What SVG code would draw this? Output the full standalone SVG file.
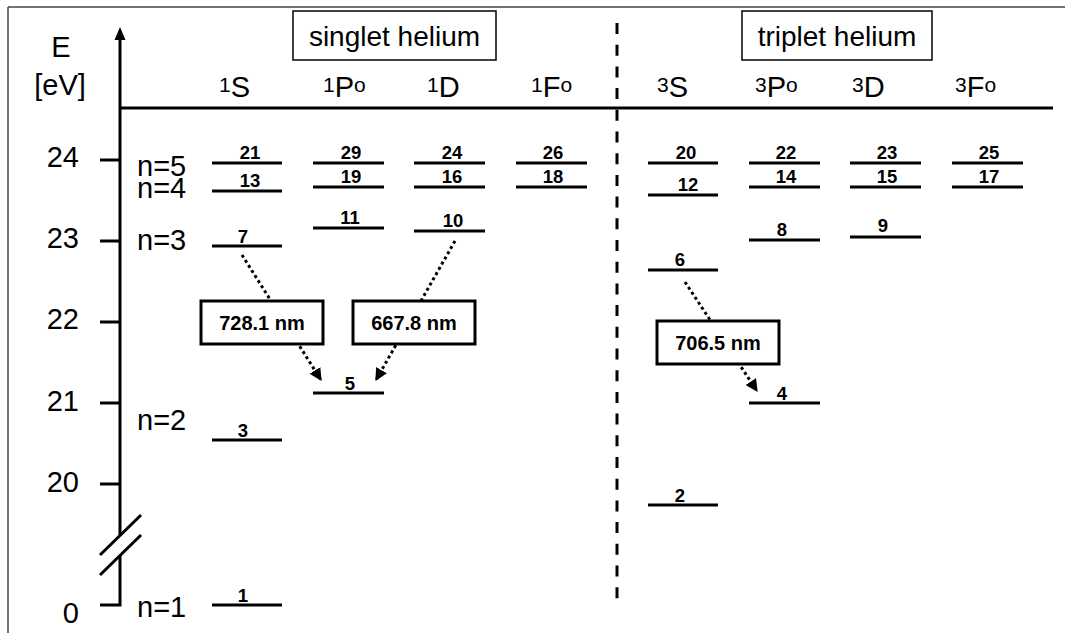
<svg xmlns="http://www.w3.org/2000/svg" width="1065" height="633" viewBox="0 0 1065 633">
<style>
.big{font-family:"Liberation Sans",Arial,sans-serif;font-size:29px;fill:#000}
.sup{font-family:"Liberation Sans",Arial,sans-serif;font-size:21px;fill:#000}
.lab{font-family:"Liberation Sans",Arial,sans-serif;font-size:18.5px;font-weight:bold;fill:#000;text-anchor:middle}
.wl{font-family:"Liberation Sans",Arial,sans-serif;font-size:20px;font-weight:bold;fill:#000;text-anchor:middle}
.lvl{stroke:#000;stroke-width:3;fill:none}
.ax{stroke:#000;stroke-width:3;fill:none}
.dot{stroke:#000;stroke-width:3;stroke-dasharray:3 3;fill:none}
.box{fill:#fff;stroke:#000;stroke-width:3}
</style>
<defs>
<marker id="ah" viewBox="0 0 10 10" refX="9" refY="5" markerWidth="4.2" markerHeight="4.2" markerUnits="strokeWidth" orient="auto">
<path d="M0,0 L10,5 L0,10 Z" fill="#000"/>
</marker>
</defs>
<rect width="1065" height="633" fill="#fff"/>
<g id="frame">
<line x1="8" y1="7" x2="1065" y2="7" stroke="#444" stroke-width="1.5"/>
<line x1="8" y1="7" x2="8" y2="633" stroke="#444" stroke-width="1.5"/>
</g>
<g id="axis">
<line class="ax" x1="120" y1="38" x2="120" y2="535"/>
<polygon points="120,27 114.5,40 125.5,40" fill="#000"/>
<polyline class="ax" points="120,555 120,605 100,605"/>
<line class="ax" x1="100" y1="555" x2="141" y2="515" stroke-width="2.5"/>
<line class="ax" x1="100" y1="575" x2="141" y2="535" stroke-width="2.5"/>
<line class="ax" x1="100" y1="160" x2="120" y2="160"/>
<line class="ax" x1="100" y1="241" x2="120" y2="241"/>
<line class="ax" x1="100" y1="322" x2="120" y2="322"/>
<line class="ax" x1="100" y1="403" x2="120" y2="403"/>
<line class="ax" x1="100" y1="484" x2="120" y2="484"/>
<line class="ax" x1="120" y1="108" x2="1053" y2="108"/>
<text class="big" x="61" y="57" text-anchor="middle">E</text>
<text class="big" x="60" y="95" text-anchor="middle">[eV]</text>
<text class="big" x="79" y="167" text-anchor="end">24</text>
<text class="big" x="79" y="248" text-anchor="end">23</text>
<text class="big" x="79" y="329" text-anchor="end">22</text>
<text class="big" x="79" y="411" text-anchor="end">21</text>
<text class="big" x="79" y="492" text-anchor="end">20</text>
<text class="big" x="79" y="623" text-anchor="end">0</text>
<text class="big" x="137" y="176">n=5</text>
<text class="big" x="137" y="198">n=4</text>
<text class="big" x="137" y="250">n=3</text>
<text class="big" x="137" y="430">n=2</text>
<text class="big" x="137" y="617">n=1</text>
</g>
<g id="divider">
<line x1="617" y1="23" x2="617" y2="607" stroke="#000" stroke-width="3" stroke-dasharray="11 10.7"/>
</g>
<g id="singlet-title">
<rect x="293" y="11" width="203" height="49" fill="#fff" stroke="#000" stroke-width="1.5"/>
<text class="big" x="394.5" y="46" text-anchor="middle" style="font-size:28px">singlet helium</text>
</g>
<g id="triplet-title">
<rect x="742" y="11" width="190" height="49" fill="#fff" stroke="#000" stroke-width="1.5"/>
<text class="big" x="837" y="46" text-anchor="middle" style="font-size:28px">triplet helium</text>
</g>
<g id="terms">
<text x="219" y="97"><tspan class="sup" dy="-5">1</tspan><tspan class="big" dy="5">S</tspan></text>
<text x="323" y="97"><tspan class="sup" dy="-5">1</tspan><tspan class="big" dy="5">P</tspan><tspan class="sup" dy="-5">o</tspan></text>
<text x="427" y="97"><tspan class="sup" dy="-5">1</tspan><tspan class="big" dy="5">D</tspan></text>
<text x="531" y="97"><tspan class="sup" dy="-5">1</tspan><tspan class="big" dy="5">F</tspan><tspan class="sup" dy="-5">o</tspan></text>
<text x="657" y="97"><tspan class="sup" dy="-5">3</tspan><tspan class="big" dy="5">S</tspan></text>
<text x="755" y="97"><tspan class="sup" dy="-5">3</tspan><tspan class="big" dy="5">P</tspan><tspan class="sup" dy="-5">o</tspan></text>
<text x="852" y="97"><tspan class="sup" dy="-5">3</tspan><tspan class="big" dy="5">D</tspan></text>
<text x="955" y="97"><tspan class="sup" dy="-5">3</tspan><tspan class="big" dy="5">F</tspan><tspan class="sup" dy="-5">o</tspan></text>
</g>
<g id="level-1"><line class="lvl" x1="212" y1="605" x2="282" y2="605"/><text class="lab" x="243" y="602">1</text></g>
<g id="level-2"><line class="lvl" x1="648" y1="505" x2="718" y2="505"/><text class="lab" x="680" y="502">2</text></g>
<g id="level-3"><line class="lvl" x1="212" y1="440" x2="282" y2="440"/><text class="lab" x="243" y="437">3</text></g>
<g id="level-4"><line class="lvl" x1="749" y1="403" x2="820" y2="403"/><text class="lab" x="782" y="400">4</text></g>
<g id="level-5"><line class="lvl" x1="313" y1="393" x2="384" y2="393"/><text class="lab" x="350" y="390">5</text></g>
<g id="level-6"><line class="lvl" x1="648" y1="270" x2="718" y2="270"/><text class="lab" x="680" y="266">6</text></g>
<g id="level-7"><line class="lvl" x1="212" y1="246" x2="282" y2="246"/><text class="lab" x="243" y="243">7</text></g>
<g id="level-8"><line class="lvl" x1="749" y1="240" x2="820" y2="240"/><text class="lab" x="782" y="236">8</text></g>
<g id="level-9"><line class="lvl" x1="850" y1="237" x2="921" y2="237"/><text class="lab" x="883" y="232">9</text></g>
<g id="level-10"><line class="lvl" x1="414" y1="231" x2="485" y2="231"/><text class="lab" x="453" y="227">10</text></g>
<g id="level-11"><line class="lvl" x1="313" y1="228" x2="384" y2="228"/><text class="lab" x="350" y="224">11</text></g>
<g id="level-12"><line class="lvl" x1="648" y1="195" x2="718" y2="195"/><text class="lab" x="688" y="191">12</text></g>
<g id="level-13"><line class="lvl" x1="212" y1="191" x2="282" y2="191"/><text class="lab" x="250" y="187">13</text></g>
<g id="level-14"><line class="lvl" x1="749" y1="187" x2="820" y2="187"/><text class="lab" x="786" y="183">14</text></g>
<g id="level-15"><line class="lvl" x1="850" y1="187" x2="921" y2="187"/><text class="lab" x="887" y="183">15</text></g>
<g id="level-16"><line class="lvl" x1="414" y1="187" x2="485" y2="187"/><text class="lab" x="452" y="183">16</text></g>
<g id="level-17"><line class="lvl" x1="952" y1="187" x2="1023" y2="187"/><text class="lab" x="989" y="183">17</text></g>
<g id="level-18"><line class="lvl" x1="516" y1="187" x2="587" y2="187"/><text class="lab" x="553" y="183">18</text></g>
<g id="level-19"><line class="lvl" x1="313" y1="187" x2="384" y2="187"/><text class="lab" x="351" y="183">19</text></g>
<g id="level-20"><line class="lvl" x1="648" y1="163" x2="718" y2="163"/><text class="lab" x="686" y="159">20</text></g>
<g id="level-21"><line class="lvl" x1="212" y1="163" x2="282" y2="163"/><text class="lab" x="250" y="159">21</text></g>
<g id="level-22"><line class="lvl" x1="749" y1="163" x2="820" y2="163"/><text class="lab" x="786" y="159">22</text></g>
<g id="level-23"><line class="lvl" x1="850" y1="163" x2="921" y2="163"/><text class="lab" x="887" y="159">23</text></g>
<g id="level-24"><line class="lvl" x1="414" y1="163" x2="485" y2="163"/><text class="lab" x="452" y="159">24</text></g>
<g id="level-25"><line class="lvl" x1="952" y1="163" x2="1023" y2="163"/><text class="lab" x="989" y="159">25</text></g>
<g id="level-26"><line class="lvl" x1="516" y1="163" x2="587" y2="163"/><text class="lab" x="553" y="159">26</text></g>
<g id="level-29"><line class="lvl" x1="313" y1="163" x2="384" y2="163"/><text class="lab" x="351" y="159">29</text></g>
<g id="connectors">
<line class="dot" x1="242" y1="255" x2="321" y2="380" marker-end="url(#ah)"/>
<line class="dot" x1="455" y1="241" x2="376" y2="380" marker-end="url(#ah)"/>
<line class="dot" x1="685" y1="282" x2="757" y2="391" marker-end="url(#ah)"/>
</g>
<g id="wl-728"><rect class="box" x="201" y="301" width="122" height="43"/><text class="wl" x="262" y="330">728.1 nm</text></g>
<g id="wl-667"><rect class="box" x="353" y="301" width="122" height="43"/><text class="wl" x="414" y="330">667.8 nm</text></g>
<g id="wl-706"><rect class="box" x="657" y="321" width="122" height="43"/><text class="wl" x="718" y="350">706.5 nm</text></g>
</svg>
